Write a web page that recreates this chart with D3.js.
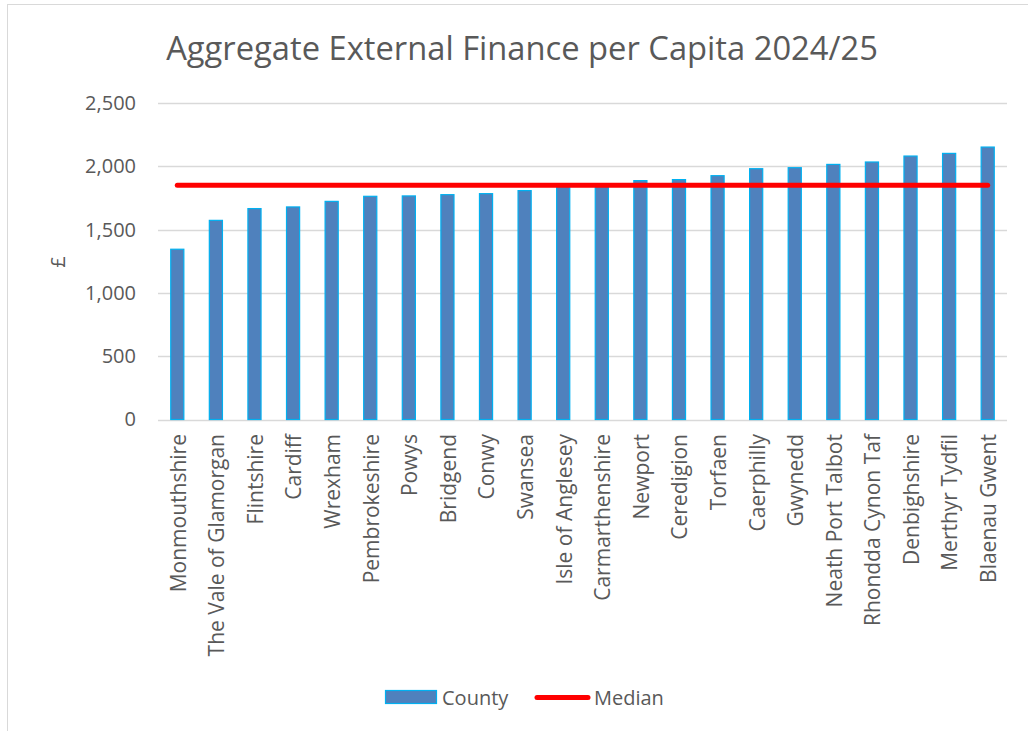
<!DOCTYPE html>
<html>
<head>
<meta charset="utf-8">
<script src="https://cdn.jsdelivr.net/npm/d3@7"></script>
<style>
  body { margin: 0; background: #fff; }
  svg { display: block; font-family: "Open Sans", sans-serif; }
</style>
</head>
<body>
<svg width="1028" height="731"></svg>
<script>
// Chart data
var counties = ["Monmouthshire", "The Vale of Glamorgan", "Flintshire", "Cardiff", "Wrexham",
    "Pembrokeshire", "Powys", "Bridgend", "Conwy", "Swansea", "Isle of Anglesey",
    "Carmarthenshire", "Newport", "Ceredigion", "Torfaen", "Caerphilly", "Gwynedd",
    "Neath Port Talbot", "Rhondda Cynon Taf", "Denbighshire", "Merthyr Tydfil", "Blaenau Gwent"];
var perCapita = [1345, 1573, 1666, 1679, 1723, 1763, 1766, 1776, 1784, 1808, 1848,
    1853, 1887, 1895, 1926, 1981, 1989, 2015, 2034, 2081, 2102, 2152];
var yTicks = [0, 500, 1000, 1500, 2000, 2500];
var median = d3.median(perCapita);

var svg = d3.select("svg"),
    width = +svg.attr("width"),
    height = +svg.attr("height");

var textColor = "#595959";

// chart frame
svg.append("rect")
    .attr("x", 7.5).attr("y", 4.5)
    .attr("width", 1030).attr("height", 740)
    .attr("fill", "none")
    .attr("stroke", "#d9d9d9");

var x = d3.scaleBand()
    .domain(counties)
    .range([158, 1007])
    .paddingInner(0.66)
    .paddingOuter(0.33);

var y = d3.scaleLinear()
    .domain([0, 2500])
    .range([419.5, 103]);

// gridlines
svg.append("g")
    .selectAll("line")
    .data(yTicks)
    .enter().append("line")
    .attr("x1", 158).attr("x2", 1007)
    .attr("y1", d => Math.round(y(d)) + 0.5)
    .attr("y2", d => Math.round(y(d)) + 0.5)
    .attr("stroke", "#d9d9d9")
    .attr("stroke-width", 1.5);

// y axis labels
var yAxis = d3.axisLeft(y).tickValues(yTicks).tickFormat(d3.format(",")).tickSize(0).tickPadding(0);
var yg = svg.append("g")
    .attr("transform", "translate(136,0)")
    .call(yAxis);
yg.select(".domain").remove();
yg.selectAll("text")
    .attr("fill", textColor)
    .attr("font-size", 20)
    .attr("font-family", "Open Sans");

svg.append("text")
    .attr("transform", "translate(65,262) rotate(-90)")
    .attr("text-anchor", "middle")
    .attr("fill", textColor)
    .attr("font-size", 20)
    .text("£");

// bars
svg.append("g")
    .selectAll("rect")
    .data(perCapita)
    .enter().append("rect")
    .attr("x", (d, i) => x(counties[i]))
    .attr("y", d => y(d))
    .attr("width", x.bandwidth())
    .attr("height", d => y(0) - y(d))
    .attr("fill", "#4f81bd")
    .attr("stroke", "#00b0f0")
    .attr("stroke-width", 1.2);

// x axis labels
var xAxis = d3.axisBottom(x).tickSize(0).tickPadding(0);
var xg = svg.append("g")
    .attr("transform", "translate(0,419)")
    .call(xAxis);
xg.select(".domain").remove();
xg.selectAll("text")
    .attr("fill", textColor)
    .attr("font-size", 21)
    .attr("font-family", "Open Sans")
    .attr("text-anchor", "end")
    .attr("dy", "0.35em")
    .attr("transform", "translate(1,15) rotate(-90)")
    .attr("x", 0).attr("y", 0);

// median line
var line = d3.line().x(d => x(d) + x.bandwidth() / 2).y(() => y(median));
svg.append("path")
    .datum([counties[0], counties[counties.length - 1]])
    .attr("d", line)
    .attr("fill", "none")
    .attr("stroke", "#ff0000")
    .attr("stroke-width", 5)
    .attr("stroke-linecap", "round");

// title
var title = svg.append("text")
    .attr("x", 522).attr("y", 60)
    .attr("text-anchor", "middle")
    .attr("fill", textColor)
    .attr("font-size", 32)
    .text("Aggregate External Finance per Capita 2024/25");
var tw = title.node().getComputedTextLength();
title.attr("font-size", 32 * 712 / tw);

// legend
var legend = svg.append("g");
legend.append("rect")
    .attr("x", 385.5).attr("y", 690.5)
    .attr("width", 51).attr("height", 13)
    .attr("fill", "#4f81bd")
    .attr("stroke", "#00b0f0")
    .attr("stroke-width", 1.2);
legend.append("text")
    .attr("x", 442).attr("y", 705)
    .attr("fill", textColor)
    .attr("font-size", 20)
    .text("County");
legend.append("line")
    .attr("x1", 537).attr("x2", 588)
    .attr("y1", 697.5).attr("y2", 697.5)
    .attr("stroke", "#ff0000")
    .attr("stroke-width", 5)
    .attr("stroke-linecap", "round");
legend.append("text")
    .attr("x", 594).attr("y", 705)
    .attr("fill", textColor)
    .attr("font-size", 20)
    .text("Median");
</script>
</body>
</html>
